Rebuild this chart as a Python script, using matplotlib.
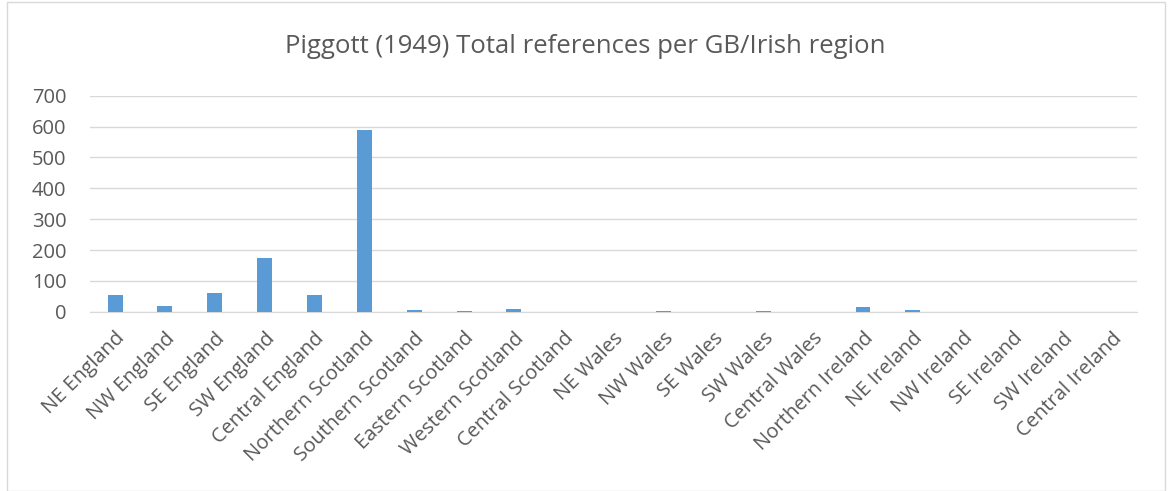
import matplotlib.pyplot as plt
from matplotlib.patches import Rectangle

plt.rcParams['font.family'] = ['Open Sans', 'DejaVu Sans']

regions = ["NE England", "NW England", "SE England", "SW England", "Central England",
           "Northern Scotland", "Southern Scotland", "Eastern Scotland", "Western Scotland",
           "Central Scotland", "NE Wales", "NW Wales", "SE Wales", "SW Wales", "Central Wales",
           "Northern Ireland", "NE Ireland", "NW Ireland", "SE Ireland", "SW Ireland",
           "Central Ireland"]
references = [55, 18, 62, 174, 55, 590, 7, 3, 10, 0, 0, 4, 0, 4, 0, 16, 6, 0, 0, 0, 0]
yticks = [0, 100, 200, 300, 400, 500, 600, 700]

fig = plt.figure(figsize=(11.7, 4.91), dpi=100)
ax = fig.add_axes([0.077, 0.365, 0.895, 0.44])

x = range(len(regions))
ax.bar(x, references, width=0.3, color="#5b9bd5", zorder=3)

ax.set_xlim(-0.5, len(regions) - 0.5)
ax.set_ylim(0, 700)
ax.set_yticks(yticks)
ax.set_xticks(list(x))
ax.set_xticklabels(regions, rotation=45, ha="right", rotation_mode="anchor",
                   fontsize=14.5, color="#595959")
ax.tick_params(axis="y", labelsize=14.5, labelcolor="#595959", length=0, pad=17)
ax.tick_params(axis="x", length=0, pad=12)
ax.grid(axis="y", color="#d9d9d9", linewidth=1, zorder=0)
for side in ["top", "right", "left"]:
    ax.spines[side].set_visible(False)
ax.spines["bottom"].set_color("#d9d9d9")

fig.text(0.5, 0.905, "Piggott (1949) Total references per GB/Irish region",
         ha="center", va="center", fontsize=18.5, color="#595959")

fig.patches.append(Rectangle((0.006, 0.0), 0.99, 0.995, transform=fig.transFigure,
                             fill=False, edgecolor="#d9d9d9", linewidth=1))

fig.savefig("out.png", dpi=100, facecolor="white")
